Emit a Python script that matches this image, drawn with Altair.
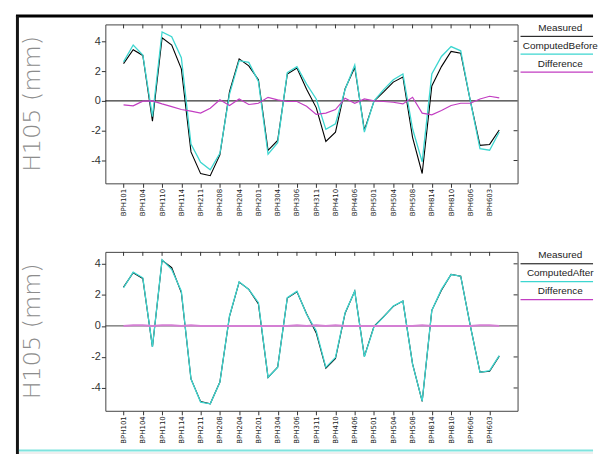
import altair as alt
import pandas as pd

# ---------------- data ----------------
tick_labels = ["BPH101", "BPH104", "BPH110", "BPH114", "BPH211", "BPH208", "BPH204",
               "BPH201", "BPH304", "BPH306", "BPH311", "BPH410", "BPH406", "BPH501",
               "BPH504", "BPH508", "BPH814", "BPH810", "BPH606", "BPH603"]

measured = [2.5, 3.43, 3.05, -1.36, 4.23, 3.75, 2.15, -3.42, -4.88, -5.02,
            -3.62, 0.62, 2.82, 2.35, 1.42, -3.32, -2.65, 1.8, 2.2, 0.78,
            -0.45, -2.72, -2.1, 0.82, 2.24, -1.96, -0.02, 0.6, 1.26, 1.6,
            -2.44, -4.87, 1.0, 2.3, 3.32, 3.2, 0.0, -2.98, -2.92, -1.95]

computed_before = [2.62, 3.75, 3.08, -1.05, 4.62, 4.3, 2.9, -2.9, -4.12, -4.62,
                   -3.52, 0.45, 2.7, 2.58, 1.3, -3.58, -2.8, 1.9, 2.3, 1.13,
                   0.13, -1.91, -1.53, 0.76, 2.4, -2.09, 0.0, 0.76, 1.42, 1.8,
                   -1.87, -4.09, 1.8, 2.98, 3.64, 3.36, 0.0, -3.2, -3.31, -2.09]

difference_before = [-0.27, -0.33, -0.02, 0.0, -0.2, -0.38, -0.58, -0.69, -0.82, -0.49,
                     0.07, -0.31, 0.13, -0.24, -0.16, 0.24, 0.07, -0.04, -0.04, -0.36,
                     -0.91, -0.82, -0.58, 0.18, -0.16, 0.13, 0.0, -0.04, -0.09, -0.2,
                     0.24, -0.82, -0.93, -0.64, -0.31, -0.16, -0.16, 0.13, 0.31, 0.2]

computed_after = [2.46, 3.46, 3.1, -1.35, 4.27, 3.63, 2.24, -3.42, -4.91, -5.02,
                  -3.63, 0.64, 2.84, 2.35, 1.5, -3.31, -2.67, 1.82, 2.24, 0.75,
                  -0.32, -2.67, -2.03, 0.85, 2.24, -1.99, -0.06, 0.58, 1.28, 1.6,
                  -2.46, -4.85, 1.0, 2.35, 3.31, 3.2, 0.0, -2.99, -2.88, -1.92]

difference_after = [0.0, 0.04, 0.04, 0.0, 0.04, 0.04, 0.0, 0.04, 0.0, 0.0,
                    0.0, 0.0, 0.0, 0.0, 0.0, 0.0, 0.0, 0.0, 0.04, 0.0,
                    0.04, 0.0, 0.04, 0.0, 0.0, 0.0, 0.0, 0.0, 0.0, 0.0,
                    0.0, 0.04, 0.0, 0.0, 0.0, 0.0, 0.0, 0.04, 0.04, 0.0]

y_ticks = [-4, -2, 0, 2, 4]
legend_before = ["Measured", "ComputedBefore", "Difference"]
legend_after = ["Measured", "ComputedAfter", "Difference"]
axis_title = "H105 (mm)"

# ---------------- styling / layout ----------------
W, H = 415, 160
XDOM = [-1.89, 40.9]
BLACK, CYAN, MAGENTA = "#000000", "#3dd6d0", "#c23dc2"
FONT = "Liberation Sans"

n = len(measured)
idx = list(range(n))
tick_idx = [2 * k for k in range(len(tick_labels))]
label_expr = "[" + ",".join("'%s'" % t for t in tick_labels) + "][round(datum.value / 2)]"

X_AXIS = alt.Axis(values=tick_idx, labelExpr=label_expr, labelAngle=270, title=None,
                  grid=False, domain=False, tickSize=4, tickColor="#333",
                  labelPadding=1, labelFont="DejaVu Sans", labelFontSize=7,
                  labelColor="#222", labelOverlap=False, labelFlush=False)


def make_x(field="i"):
    return alt.X(field + ":Q", scale=alt.Scale(domain=XDOM, nice=False, zero=False), axis=X_AXIS)


def make_y(dom, field="v"):
    return alt.Y(field + ":Q", scale=alt.Scale(domain=dom, nice=False, zero=False),
                 axis=alt.Axis(values=y_ticks, title=None, grid=False, domain=False,
                               tickSize=4, tickColor="#333", labelPadding=1,
                               labelFont=FONT, labelFontSize=11, labelColor="#333",
                               labelExpr="'' + datum.value"))


def one_row(tag):
    return alt.Chart(pd.DataFrame({"s": [tag]}))


def hrule(tag, x1, x2, y, color, sw):
    return (one_row(tag).mark_rule(color=color, strokeWidth=sw, strokeCap="butt")
            .encode(x=alt.value(x1), x2=alt.value(x2), y=alt.value(y)))


def panel(computed, diff, legend_names, ydom, zero_color, diff_color, diff_width, with_frame):
    X = make_x()
    Y = make_y(ydom)
    layers = []
    # zero line
    layers.append(alt.Chart(pd.DataFrame({"v": [0]})).mark_rule(color=zero_color, strokeWidth=1)
                  .encode(y=Y, x=alt.value(0), x2=alt.value(W)))
    # series
    for vals, color, sw in [(measured, BLACK, 1.1), (computed, CYAN, 1.3), (diff, diff_color, diff_width)]:
        df = pd.DataFrame({"i": idx, "v": vals})
        layers.append(alt.Chart(df).mark_line(color=color, strokeWidth=sw, interpolate="linear")
                      .encode(x=X, y=Y))
    # inward ticks on top and right
    layers.append(alt.Chart(pd.DataFrame({"i": tick_idx})).mark_rule(color="#333", strokeWidth=1)
                  .encode(x=X, y=alt.value(0), y2=alt.value(4)))
    layers.append(alt.Chart(pd.DataFrame({"v": [t for t in y_ticks if t != 0]}))
                  .mark_rule(color="#333", strokeWidth=1)
                  .encode(y=Y, x=alt.value(W - 4), x2=alt.value(W)))
    # legend: label above a line sample
    colors = [BLACK, CYAN, MAGENTA]
    text_y = [3.5, 21.5, 39.5]
    line_y = [12, 30, 48]
    for k, name in enumerate(legend_names):
        layers.append(one_row(name)
                      .mark_text(font=FONT, fontSize=10, color="#222", align="center", baseline="middle")
                      .encode(text="s:N", x=alt.value(458), y=alt.value(text_y[k])))
        layers.append(hrule(name, 418, 491, line_y[k], colors[k], 1.3 if k else 1))
    # big y title
    layers.append(one_row(axis_title)
                  .mark_text(font="DejaVu Sans", fontSize=24, fontWeight=300, color="#8c8c8c",
                             angle=270, align="center", baseline="middle")
                  .encode(text="s:N", x=alt.value(-72.5), y=alt.value(80)))
    if with_frame:
        # top border band
        layers.append(one_row("topband").mark_rect(color="#000000")
                      .encode(x=alt.value(-90), x2=alt.value(491),
                              y=alt.value(-10), y2=alt.value(-7)))
        # left border
        layers.append(one_row("left").mark_rule(color="#141414", strokeWidth=3, strokeCap="butt")
                      .encode(x=alt.value(-88.5), y=alt.value(-8.5), y2=alt.value(432.5)))
        # bottom cyan band and grey line
        layers.append(hrule("cyan", -87, 491, 429, "#7fe3de", 2))
        layers.append(hrule("grey", -87, 491, 431.5, "#dddddd", 1))
    return alt.layer(*layers).properties(width=W, height=H)


top = panel(computed_before, difference_before, legend_before, [-5.53, 5.13],
            BLACK, MAGENTA, 1.2, True)
bottom = panel(computed_after, difference_after, legend_after, [-5.47, 4.77],
               "#444", "#d47fd4", 2.0, False)

chart = (alt.vconcat(top, bottom, spacing=69, bounds="flush")
         .properties(padding={"left": 7, "top": 4, "right": 0, "bottom": 0}, background="white")
         .configure_view(stroke="#444", strokeWidth=1))

chart.save("out.html", embed_options={"renderer": "svg", "actions": False})
